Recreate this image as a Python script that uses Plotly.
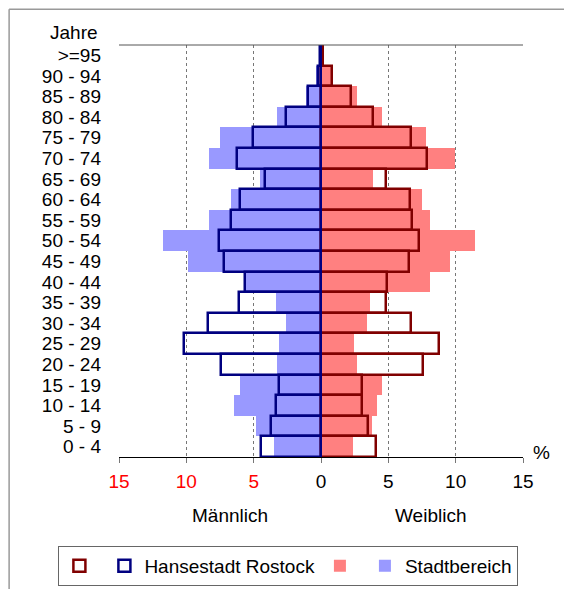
import plotly.graph_objects as go

# age groups, bottom to top
ages = ["0 - 4", "5 - 9", "10 - 14", "15 - 19", "20 - 24", "25 - 29", "30 - 34",
        "35 - 39", "40 - 44", "45 - 49", "50 - 54", "55 - 59", "60 - 64",
        "65 - 69", "70 - 74", "75 - 79", "80 - 84", "85 - 89", "90 - 94", ">=95"]

# percent shares
rostock_m = [4.42, 3.73, 3.36, 3.14, 7.46, 10.16, 8.38, 6.1, 5.68, 7.2, 7.59,
             6.67, 6.05, 4.13, 6.23, 5.04, 2.6, 0.99, 0.25, 0.1]
rostock_w = [4.08, 3.51, 3.01, 3.06, 7.61, 8.75, 6.7, 4.84, 4.89, 6.5, 7.24,
             6.72, 6.62, 4.79, 7.86, 6.67, 3.88, 2.2, 0.82, 0.15]
stadt_m = [3.46, 4.79, 6.47, 6.03, 3.26, 3.11, 2.57, 3.31, 5.6, 9.88, 11.76,
           8.35, 6.72, 4.55, 8.35, 7.5, 3.3, 1.09, 0.4, 0.1]
stadt_w = [2.35, 3.76, 4.15, 4.55, 2.67, 2.47, 3.39, 3.63, 8.08, 9.59, 11.42,
           8.08, 7.51, 3.85, 9.98, 7.81, 4.55, 2.67, 0.78, 0.1]

tick_vals = [-15, -10, -5, 0, 5, 10, 15]
tick_text = ['<span style="color:red">15</span>', '<span style="color:red">10</span>',
             '<span style="color:red">5</span>', "0", "5", "10", "15"]

fig = go.Figure()
fig.add_trace(go.Bar(y=ages, x=stadt_w, orientation="h", name="",
                     marker=dict(color="#FF8080", line=dict(width=0)), legendrank=3))
fig.add_trace(go.Bar(y=ages, x=[-v for v in stadt_m], orientation="h", name="Stadtbereich",
                     marker=dict(color="#9999FF", line=dict(width=0)), legendrank=4))
fig.add_trace(go.Bar(y=ages, x=rostock_w, orientation="h", name="",
                     marker=dict(color="rgba(0,0,0,0)", line=dict(color="#800000", width=2.5)),
                     legendrank=1))
fig.add_trace(go.Bar(y=ages, x=[-v for v in rostock_m], orientation="h", name="Hansestadt Rostock",
                     marker=dict(color="rgba(0,0,0,0)", line=dict(color="#000080", width=2.5)),
                     legendrank=2))

fig.update_layout(
    width=564, height=589,
    barmode="overlay", bargap=0,
    plot_bgcolor="white", paper_bgcolor="white",
    font=dict(family="Liberation Sans, Arial", size=19, color="black"),
    margin=dict(l=119, r=41, t=45, b=132, autoexpand=False),
    legend=dict(orientation="h", x=-0.15, xanchor="left", y=-0.216, yanchor="top",
                bordercolor="#666", borderwidth=1, font=dict(size=19),
                traceorder="normal"),
    xaxis=dict(range=[-15, 15], tickvals=tick_vals, ticktext=tick_text,
               showgrid=True, gridcolor="#777", griddash="dot", gridwidth=1,
               zeroline=False, showline=True, linecolor="black", linewidth=1,
               ticks="outside", ticklen=5, tickcolor="#777", ticklabelstandoff=2,
               fixedrange=True, automargin=False),
    yaxis=dict(tickmode="array", tickvals=ages, ticktext=ages,
               showgrid=False, zeroline=False, ticks="", ticklabelstandoff=17,
               fixedrange=True, automargin=False),
    showlegend=True,
)

# plot frame top line and outer chart frame
fig.add_shape(type="line", xref="paper", yref="paper", x0=0, x1=1, y0=1, y1=1,
              line=dict(color="#555", width=1))
fig.add_shape(type="line", xref="paper", yref="paper", x0=-0.272, x1=1.102, y0=1.087, y1=1.087,
              line=dict(color="#999", width=1.5))
fig.add_shape(type="line", xref="paper", yref="paper", x0=-0.272, x1=-0.272, y0=1.087, y1=-0.33,
              line=dict(color="#999", width=1.5))

fig.add_annotation(text="Jahre", xref="paper", yref="paper", x=-0.047, y=1.03,
                   xanchor="right", yanchor="middle", showarrow=False)
fig.add_annotation(text="%", xref="paper", yref="paper", x=1.045, y=0.012,
                   xanchor="center", yanchor="middle", showarrow=False)
fig.add_annotation(text="Männlich", xref="paper", yref="paper", x=0.275, y=-0.143,
                   xanchor="center", yanchor="middle", showarrow=False)
fig.add_annotation(text="Weiblich", xref="paper", yref="paper", x=0.77, y=-0.143,
                   xanchor="center", yanchor="middle", showarrow=False)

fig.write_html("out.html", config={"displayModeBar": False},
               post_script="document.body.style.margin='0';")
